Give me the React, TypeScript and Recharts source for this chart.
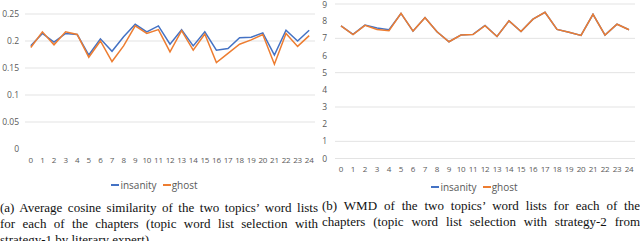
import React from 'react';
import { LineChart, Line, XAxis, YAxis, CartesianGrid, Legend } from 'recharts';

const BLUE = '#4472C4';
const ORANGE = '#ED7D31';
const GRID = '#e3e3e3';
const TEXT = '#595959';
const FONT = '"Open Sans", "Liberation Sans", sans-serif';

const chapters = ['0', '1', '2', '3', '4', '5', '6', '7', '8', '9', '10', '11', '12', '13', '14', '15', '16', '17', '18', '19', '20', '21', '22', '23', '24'];
const seriesNames = ['insanity', 'ghost'];

// (a) average cosine similarity
const insanityCos = [0.191, 0.214, 0.198, 0.214, 0.212, 0.174, 0.204, 0.181, 0.208, 0.231, 0.217, 0.228, 0.194, 0.221, 0.191, 0.217, 0.183, 0.186, 0.206, 0.207, 0.215, 0.174, 0.22, 0.2, 0.22];
const ghostCos = [0.188, 0.217, 0.193, 0.217, 0.212, 0.17, 0.2, 0.162, 0.191, 0.228, 0.214, 0.221, 0.18, 0.219, 0.183, 0.213, 0.16, 0.177, 0.194, 0.202, 0.212, 0.157, 0.214, 0.19, 0.21];
const cosTicks = [0, 0.05, 0.1, 0.15, 0.2, 0.25];

// (b) WMD
const insanityWmd = [7.73, 7.23, 7.77, 7.6, 7.5, 8.45, 7.42, 8.21, 7.38, 6.8, 7.2, 7.23, 7.75, 7.11, 8.02, 7.4, 8.12, 8.52, 7.52, 7.35, 7.17, 8.4, 7.19, 7.83, 7.5];
const ghostWmd = [7.72, 7.22, 7.76, 7.52, 7.44, 8.45, 7.42, 8.2, 7.38, 6.8, 7.19, 7.22, 7.74, 7.11, 8.02, 7.4, 8.12, 8.52, 7.52, 7.35, 7.17, 8.4, 7.19, 7.82, 7.5];
const wmdTicks = [0, 1, 2, 3, 4, 5, 6, 7, 8, 9];

const captionA = [
  '(a) Average cosine similarity of the two topics\u2019 word lists',
  'for each of the chapters (topic word list selection with',
  'strategy-1 by literary expert)',
];
const captionB = [
  '(b) WMD of the two topics\u2019 word lists for each of the',
  'chapters (topic word list selection with strategy-2 from',
];

const cosData = chapters.map((c, i) => ({ ch: c, insanity: insanityCos[i], ghost: ghostCos[i] }));
const wmdData = chapters.map((c, i) => ({ ch: c, insanity: insanityWmd[i], ghost: ghostWmd[i] }));

const LegendBox = ({ payload }: any) => {
  const items = [...(payload || [])].sort((a: any, b: any) => seriesNames.indexOf(a.value) - seriesNames.indexOf(b.value));
  return (
    <div style={{ display: 'flex', justifyContent: 'center', fontFamily: FONT, fontSize: 10, color: TEXT, lineHeight: '14px' }}>
      {items.map((p: any) => (
        <span key={p.value} style={{ display: 'inline-flex', alignItems: 'center', marginRight: 6 }}>
          <span style={{ display: 'inline-block', width: 8, height: 1.5, background: p.color, marginRight: 1 }} />
          {p.value}
        </span>
      ))}
    </div>
  );
};

const yTick = { fill: TEXT, fontSize: 8.5, fontFamily: FONT };
const xTick = { fill: TEXT, fontSize: 8, fontFamily: FONT, letterSpacing: -0.2 };

const Caption = ({ lines, left, top, justifyAll }: { lines: string[]; left: number; top: number; justifyAll?: boolean }) => (
  <div style={{ position: 'absolute', left, top, width: 318, fontFamily: '"Liberation Serif", "DejaVu Serif", serif', fontSize: 13, lineHeight: '16px', color: '#111' }}>
    {lines.map((l, i) => (
      <div key={i} style={{ textAlign: 'justify', textAlignLast: justifyAll || i < lines.length - 1 ? 'justify' : 'left' }}>
        {l}
      </div>
    ))}
  </div>
);

export default function App() {
  return (
    <div style={{ position: 'absolute', left: 0, top: 0, width: 640, height: 241, overflow: 'hidden', background: '#fff' }}>
      <div style={{ position: 'absolute', left: 0, top: 0 }}>
        <LineChart width={320} height={200} data={cosData} margin={{ top: 14, right: 5, bottom: 31, left: 0 }}>
          <CartesianGrid stroke={GRID} vertical={false} horizontalValues={[0.05, 0.1, 0.15, 0.2, 0.25]} />
          <XAxis dataKey="ch" scale="band" interval={0} tick={xTick} tickLine={false} axisLine={false} height={20} />
          <YAxis domain={[0, 0.25]} ticks={cosTicks} tick={yTick} tickLine={false} axisLine={false} width={25} tickSize={4} tickMargin={2} />
          <Legend verticalAlign="middle" align="center" content={<LegendBox />} wrapperStyle={{ top: 178 }} />
          <Line dataKey="insanity" stroke={BLUE} strokeWidth={1.5} dot={false} isAnimationActive={false} />
          <Line dataKey="ghost" stroke={ORANGE} strokeWidth={1.5} dot={false} isAnimationActive={false} />
        </LineChart>
      </div>
      <div style={{ position: 'absolute', left: 320, top: 0 }}>
        <LineChart width={320} height={200} data={wmdData} margin={{ top: 4, right: 5, bottom: 21.5, left: 0 }}>
          <CartesianGrid stroke={GRID} vertical={false} />
          <XAxis dataKey="ch" scale="band" interval={0} tick={xTick} tickLine={false} axisLine={false} height={20} />
          <YAxis domain={[0, 9]} ticks={wmdTicks} tick={yTick} tickLine={false} axisLine={false} width={15} />
          <Legend verticalAlign="middle" align="center" content={<LegendBox />} wrapperStyle={{ top: 180 }} />
          <Line dataKey="insanity" stroke={BLUE} strokeWidth={1.5} dot={false} isAnimationActive={false} />
          <Line dataKey="ghost" stroke={ORANGE} strokeWidth={1.5} dot={false} isAnimationActive={false} />
        </LineChart>
      </div>
      <Caption lines={captionA} left={0} top={200} />
      <Caption lines={captionB} left={322} top={198} justifyAll />
    </div>
  );
}
